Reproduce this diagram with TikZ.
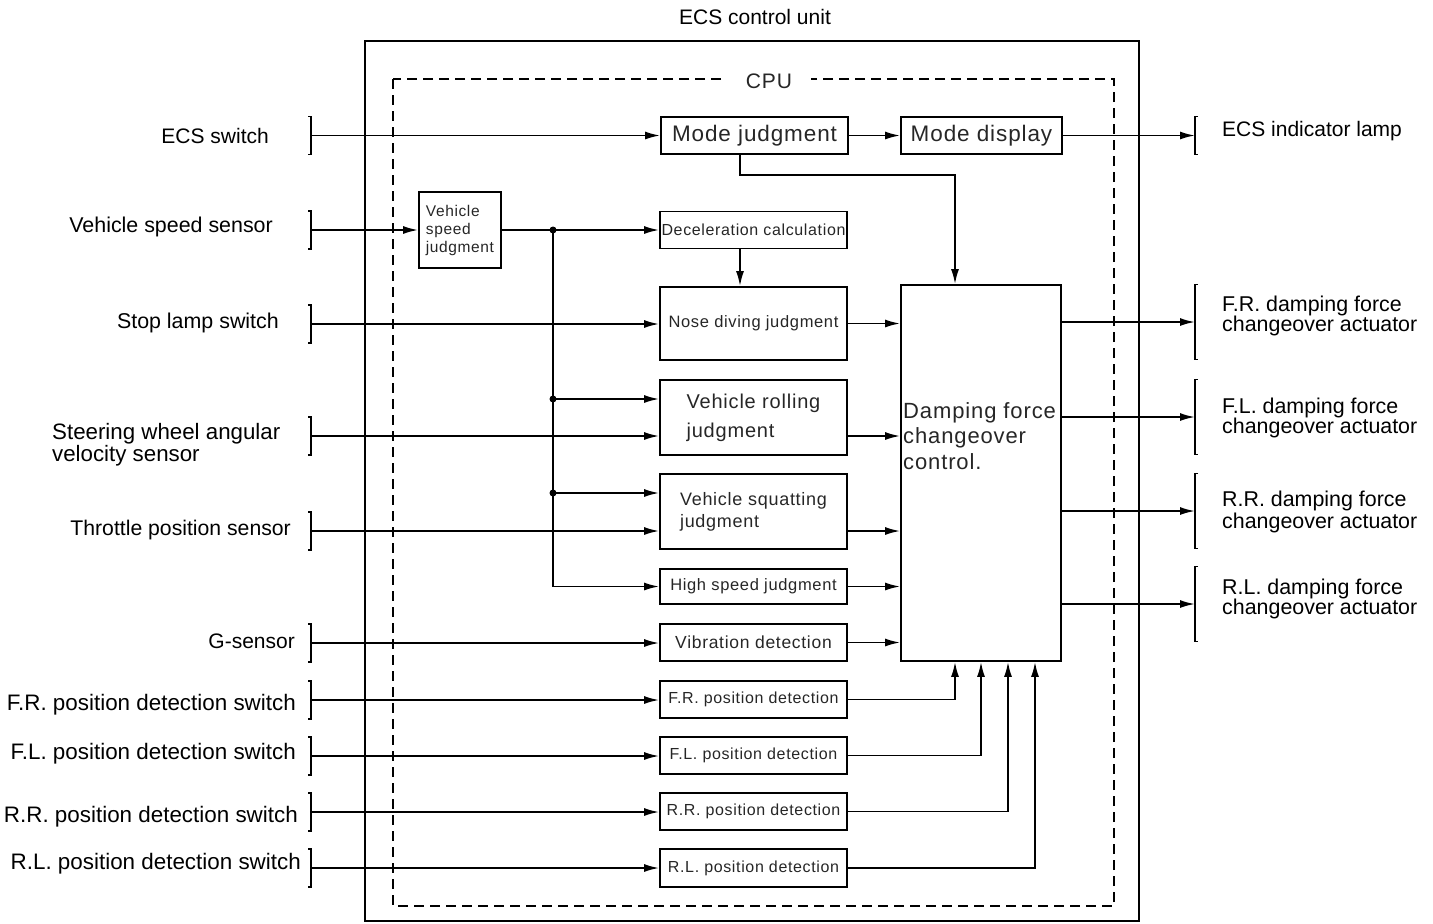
\documentclass[tikz,border=0pt]{standalone}
\usepackage{fontspec}
\setmainfont{Liberation Sans}
\newfontfamily\innerfont[LetterSpace=4]{Liberation Sans}
\usetikzlibrary{arrows.meta}
\newcommand{\fs}[2]{\fontsize{#1}{#2}\selectfont}
\begin{document}
\begin{tikzpicture}[x=1pt,y=-1pt,
  ln/.style={line width=1.8pt},
  arr/.style={ln,-{Latex[length=15pt,width=8pt]}},
  brk/.style={line width=1.8pt},
  box/.style={draw,line width=1.8pt,inner sep=1pt,text=black!85,minimum width=187pt},
  lbl/.style={font=\fs{21}{20},inner sep=0pt},
  jdot/.style={circle,fill,inner sep=0pt,minimum size=7pt}
]
\useasboundingbox (0,0) rectangle (1433,924);

% outer unit and CPU
\node[draw,line width=2.6pt,minimum width=774pt,minimum height=880pt,inner sep=0pt] (ecu) at (752,481) {};
\node[lbl,anchor=base] (ecut) at (755,24) {ECS control unit};
\draw[line width=1.6pt,dash pattern=on 10pt off 6pt] (393,79) rectangle (1114,906);
\node[fill=white,inner xsep=19pt,inner ysep=2pt,font=\innerfont\fs{21}{21},text=black!85] (cpu) at (769,81) {CPU};

% boxes
\node[box,minimum height=37pt,font=\innerfont\fs{22.5}{22}] (mj) at (754.5,135.5) {Mode judgment};
\node[box,minimum width=161pt,minimum height=37pt,font=\innerfont\fs{22.5}{22}] (md) at (981.5,135.5) {Mode display};
\node[box,minimum width=82pt,minimum height=76pt,align=left,font=\innerfont\fs{15.5}{18}] (vsj) at (460,230) {Vehicle\\speed\\judgment};
\node[box,minimum height=37pt,font=\innerfont\fs{16}{16}] (dec) at (753.5,230) {Deceleration calculation};
\node[box,minimum height=73pt,font=\innerfont\fs{16.5}{16}] (nose) at (753.5,323.5) {Nose diving judgment};
\node[box,minimum height=75pt,align=left,font=\innerfont\fs{20}{29}] (roll) at (753.5,417.5) {Vehicle rolling\\judgment};
\node[box,minimum height=75pt,align=left,font=\innerfont\fs{18}{22}] (squat) at (753.5,511.5) {Vehicle squatting\\judgment};
\node[box,minimum height=35pt,font=\innerfont\fs{16.5}{16}] (high) at (753.5,586.5) {High speed judgment};
\node[box,minimum height=37pt,font=\innerfont\fs{17.5}{17}] (vib) at (753.5,642.5) {Vibration detection};
\node[box,minimum height=37pt,font=\innerfont\fs{16}{16}] (fr) at (753.5,699.5) {F.R. position detection};
\node[box,minimum height=37pt,font=\innerfont\fs{16}{16}] (fl) at (753.5,755.5) {F.L. position detection};
\node[box,minimum height=37pt,font=\innerfont\fs{16}{16}] (rr) at (753.5,811.5) {R.R. position detection};
\node[box,minimum height=38pt,font=\innerfont\fs{16}{16}] (rl) at (753.5,868) {R.L. position detection};
\node[box,minimum width=160pt,minimum height=376pt] (damp) at (981,473) {};
\node[anchor=north west,inner sep=0pt,align=left,font=\innerfont\fs{22}{25.5},text=black!85] (dtext) at (903,402) {Damping force\\changeover\\control.};

% left input brackets
\foreach \n/\y in {iECS/135.5,iVS/230,iSL/324,iSW/436,iTP/531,iG/643,iFR/700,iFL/756,iRR/812,iRL/868}{
  \coordinate (\n) at (311,\y);
  \draw[brk] ([shift={(-3,-19)}]\n) -- ++(3,0) -- ++(0,38) -- ++(-3,0);
}
% right output brackets
\coordinate (oECS) at (1195,135.5);
\draw[brk] ([shift={(3,-19)}]oECS) -- ++(-3,0) -- ++(0,38) -- ++(3,0);
\foreach \n/\y in {oFR/322,oFL/417,oRR/511,oRL/604}{
  \coordinate (\n) at (1195,\y);
  \draw[brk] ([shift={(3,-37.5)}]\n) -- ++(-3,0) -- ++(0,75) -- ++(3,0);
}

% left labels
\node[lbl,anchor=base east] (tECS) at (269,143) {ECS switch};
\node[lbl,anchor=base east,font=\fs{21.4}{20}] (tVS) at (273,232) {Vehicle speed sensor};
\node[lbl,anchor=base east,font=\fs{21.4}{20}] (tSL) at (279,328) {Stop lamp switch};
\node[lbl,anchor=north west,align=left,font=\fs{22.3}{20.5}] (tSW) at (52,423) {Steering wheel angular\\velocity sensor};
\node[lbl,anchor=base east,font=\fs{21.2}{20}] (tTP) at (291,535) {Throttle position sensor};
\node[lbl,anchor=base east] (tG) at (295,648) {G-sensor};
\node[lbl,anchor=base east,font=\fs{22.4}{20}] (tFR) at (296,710) {F.R. position detection switch};
\node[lbl,anchor=base east,font=\fs{22.4}{20}] (tFL) at (296,759) {F.L. position detection switch};
\node[lbl,anchor=base east,font=\fs{22.4}{20}] (tRR) at (298,822) {R.R. position detection switch};
\node[lbl,anchor=base east,font=\fs{22.4}{20}] (tRL) at (301,869) {R.L. position detection switch};

% right labels
\node[lbl,anchor=base west] (tIL) at (1222,136) {ECS indicator lamp};
\node[lbl,anchor=west,align=left,font=\fs{21.4}{20}] (tAFR) at (1222,316) {F.R. damping force\\changeover actuator};
\node[lbl,anchor=west,align=left,font=\fs{21.4}{20}] (tAFL) at (1222,418) {F.L. damping force\\changeover actuator};
\node[lbl,anchor=west,align=left,font=\fs{21.4}{22}] (tARR) at (1222,512) {R.R. damping force\\changeover actuator};
\node[lbl,anchor=west,align=left,font=\fs{21.4}{20}] (tARL) at (1222,599) {R.L. damping force\\changeover actuator};

% input connectors
\draw[arr] (iECS) -- (iECS -| mj.west);
\draw[arr] (iVS) -- (iVS -| vsj.west);
\draw[arr] (iSL) -- (iSL -| nose.west);
\draw[arr] (iSW) -- (iSW -| roll.west);
\draw[arr] (iTP) -- (iTP -| squat.west);
\draw[arr] (iG) -- (iG -| vib.west);
\draw[arr] (iFR) -- (iFR -| fr.west);
\draw[arr] (iFL) -- (iFL -| fl.west);
\draw[arr] (iRR) -- (iRR -| rr.west);
\draw[arr] (iRL) -- (iRL -| rl.west);

% mode path
\draw[arr] (mj) -- (md);
\draw[arr] (md.east) -- (oECS);
\coordinate (mx) at (740,0);
\coordinate (dx) at (955,0);
\draw[arr] (mj.south -| mx) -- ++(0,20) -| (damp.north -| dx);
\draw[arr] (dec.south -| mx) -- (nose.north -| mx);

% vehicle speed bus
\draw[arr] (vsj) -- (dec);
\coordinate (bus) at (553,230);
\coordinate (bR) at (553,399);
\coordinate (bS) at (553,493);
\draw[arr] (bus) |- (high.west);
\draw[arr] (bR) -- (bR -| roll.west);
\draw[arr] (bS) -- (bS -| squat.west);
\node[jdot] (d1) at (bus) {};
\node[jdot] (d2) at (bR) {};
\node[jdot] (d3) at (bS) {};

% into damping
\draw[arr] (nose.east) -- (nose.east -| damp.west);
\draw[arr] (iSW -| roll.east) -- (iSW -| damp.west);
\draw[arr] (iTP -| squat.east) -- (iTP -| damp.west);
\draw[arr] (high.east) -- (high.east -| damp.west);
\draw[arr] (vib.east) -- (vib.east -| damp.west);
\coordinate (p1) at (955,0);
\coordinate (p2) at (981,0);
\coordinate (p3) at (1008,0);
\coordinate (p4) at (1035,0);
\draw[arr] (fr.east) -| (damp.south -| p1);
\draw[arr] (fl.east) -| (damp.south -| p2);
\draw[arr] (rr.east) -| (damp.south -| p3);
\draw[arr] (rl.east) -| (damp.south -| p4);

% outputs
\draw[arr] (oFR -| damp.east) -- (oFR);
\draw[arr] (oFL -| damp.east) -- (oFL);
\draw[arr] (oRR -| damp.east) -- (oRR);
\draw[arr] (oRL -| damp.east) -- (oRL);
\end{tikzpicture}
\end{document}
